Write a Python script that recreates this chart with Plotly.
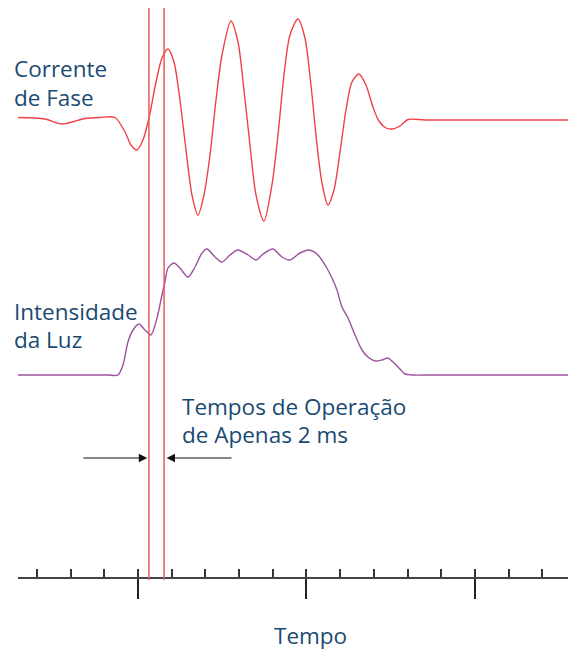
import plotly.graph_objects as go

# ---- data (time in ms, amplitudes relative) ----
current_t = [-14.24, -11.04, -9.02, -6.29, -4.5, -2.73, -1.54, -0.83, -0.12, 0.59, 1.31, 2.14, 2.85,
             3.56, 4.27, 4.98, 5.70, 6.41, 7.12, 7.83, 8.55, 9.26, 9.97, 11.04, 11.87, 12.58,
             13.29, 14.01, 14.95, 15.90, 16.62, 17.33, 18.04, 18.99, 19.82, 20.53, 21.25, 21.84,
             22.55, 23.26, 23.98, 24.69, 25.40, 26.23, 27.06, 27.89, 28.60, 29.44, 30.15, 31.10,
             32.05, 34.06, 38.0, 44.0, 51.04]
current_v = [0.015, 0.0, -0.05, 0.005, 0.015, 0.015, -0.13, -0.26, -0.31, -0.21, 0.01, 0.37, 0.61,
             0.70, 0.57, 0.19, -0.31, -0.76, -0.96, -0.76, -0.36, 0.19, 0.64, 0.98, 0.77, 0.29,
             -0.26, -0.76, -1.02, -0.66, -0.16, 0.44, 0.84, 1.00, 0.81, 0.34, -0.26, -0.64,
             -0.86, -0.71, -0.33, 0.09, 0.37, 0.45, 0.34, 0.12, -0.02, -0.09, -0.10, -0.07,
             -0.005, -0.01, -0.01, -0.01, -0.01]

light_t = [-14.24, -10.0, -6.0, -3.5, -2.37, -1.78, -1.19, -0.59, 0.12, 0.83, 1.54, 2.26, 2.85, 3.20,
           3.56, 4.27, 4.98, 5.93, 6.77, 7.60, 8.19, 9.14, 9.97, 10.92, 11.87, 13.06, 14.01, 14.84,
           16.02, 17.09, 18.04, 19.23, 20.30, 21.36, 22.20, 23.03, 23.62, 24.21, 24.93, 25.76,
           26.59, 27.30, 28.13, 28.96, 29.67, 30.27, 30.98, 31.69, 32.52, 35.0, 40.0, 46.0, 51.04]
light_v = [0.0, 0.0, 0.0, 0.0, 0.0, 0.08, 0.264, 0.36, 0.408, 0.36, 0.32, 0.456, 0.64, 0.744,
           0.856, 0.896, 0.856, 0.784, 0.864, 0.976, 1.008, 0.944, 0.904, 0.96, 1.00, 0.96, 0.92,
           0.968, 1.008, 0.944, 0.92, 0.976, 1.00, 0.96, 0.88, 0.776, 0.68, 0.544, 0.456, 0.32,
           0.20, 0.144, 0.112, 0.12, 0.136, 0.104, 0.056, 0.008, 0.0, 0.0, 0.0, 0.0, 0.0]

op_start = 1.3   # ms
op_end = 3.1     # ms

labels = {
    "current": ["Corrente", "de Fase"],
    "light": ["Intensidade", "da Luz"],
    "op": ["Tempos de Operação", "de Apenas 2 ms"],
    "axis": "Tempo",
}

W, H = 568, 651
TEXT = "#1a4a72"
FONT = "Open Sans"
FS = 22.5

fig = go.Figure()
fig.add_trace(go.Scatter(x=current_t, y=current_v, mode="lines", xaxis="x", yaxis="y",
                         line=dict(color="#ef4045", width=1.4, shape="spline", smoothing=0.8),
                         hoverinfo="skip"))
fig.add_trace(go.Scatter(x=light_t, y=light_v, mode="lines", xaxis="x", yaxis="y2",
                         line=dict(color="#9d509f", width=1.4, shape="spline", smoothing=0.8),
                         hoverinfo="skip"))
fig.add_trace(go.Scatter(x=[], y=[], xaxis="x2", yaxis="y", showlegend=False))

def py(px):
    return 1 - px / H

xr = [-14.24, 51.04]
axis_pos = py(578)

for t in (op_start, op_end):
    fig.add_shape(type="line", xref="x", yref="paper", x0=t, x1=t, y0=py(580), y1=py(8),
                  line=dict(color="#e65a5e", width=1.5), layer="above")

ann = []
def txt(s, x, y, anchor="left"):
    ann.append(dict(text=s, xref="paper", yref="paper", x=x / W, y=py(y), xanchor=anchor,
                    yanchor="middle", showarrow=False, font=dict(family=FONT, size=FS, color=TEXT)))

txt(labels["current"][0], 12, 69)
txt(labels["current"][1], 12, 97)
txt(labels["light"][0], 12, 311)
txt(labels["light"][1], 12, 339)
txt(labels["op"][0], 180, 406)
txt(labels["op"][1], 180, 434)
txt(labels["axis"], 310, 635, anchor="center")

# arrows
ann.append(dict(x=op_start - 0.2, y=py(458), xref="x", yref="paper", ax=-6.65, ay=0,
                axref="x", ayref="pixel", showarrow=True, arrowhead=2, arrowsize=1.4,
                arrowwidth=1.2, arrowcolor="#111", text=""))
ann.append(dict(x=op_end + 0.3, y=py(458), xref="x", yref="paper", ax=11.28, ay=0,
                axref="x", ayref="pixel", showarrow=True, arrowhead=2, arrowsize=1.4,
                arrowwidth=1.2, arrowcolor="#111", text=""))

fig.update_layout(
    width=W, height=H, margin=dict(l=0, r=0, t=0, b=0),
    paper_bgcolor="white", plot_bgcolor="white", showlegend=False,
    xaxis=dict(domain=[18 / W, 1], range=xr, anchor="free", position=axis_pos,
               showline=True, linecolor="#444", linewidth=1.5, ticks="inside",
               tick0=0, dtick=4, ticklen=8, tickwidth=1.5, tickcolor="#333",
               showticklabels=False, showgrid=False, zeroline=False, fixedrange=True),
    xaxis2=dict(domain=[18 / W, 1], range=xr, anchor="free", position=axis_pos,
                overlaying="x", showline=False, ticks="outside", tick0=0, dtick=20,
                ticklen=20, tickwidth=1.5, tickcolor="#222", showticklabels=False,
                showgrid=False, zeroline=False),
    yaxis=dict(domain=[py(240), 1], range=[-1.21, 1.19], visible=False),
    yaxis2=dict(domain=[py(400), py(240)], range=[-0.2, 1.08], visible=False),
    annotations=ann,
)

fig.write_html("out.html", config={"displayModeBar": False},
               post_script="document.body.style.margin='0px';"
               "document.body.style.overflow='hidden';")
